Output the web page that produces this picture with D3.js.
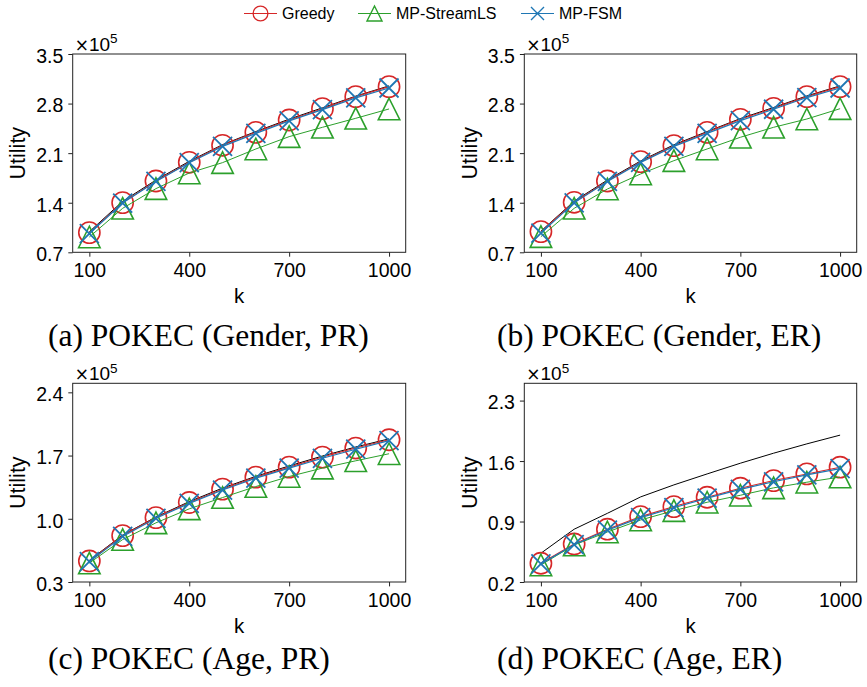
<!DOCTYPE html>
<html>
<head>
<meta charset="utf-8">
<script src="https://cdn.jsdelivr.net/npm/d3@7"></script>
<style>
  html, body { margin: 0; padding: 0; background: #fff; }
  svg { display: block; }
</style>
</head>
<body>
<svg id="fig" width="867" height="687"></svg>
<script>
// ---- data: utility values vs. k for the POKEC experiments ----
const kValues = [100, 200, 300, 400, 500, 600, 700, 800, 900, 1000];
const xTicks = [100, 400, 700, 1000];

// (a) Gender, PR
const greedyA   = [97800, 140100, 170700, 197100, 221100, 239400, 256800, 272800, 289800, 303900];
const streamA   = [91600, 132100, 159900, 182000, 196600, 215900, 233300, 246500, 259200, 272400];
const fsmA      = [96500, 139500, 170000, 196500, 219500, 238000, 255500, 271500, 288000, 302000];
const boundA    = [99000, 142000, 172000, 198500, 222000, 240500, 258000, 274000, 290500, 305000];
const yTicksA   = [70000, 140000, 210000, 280000, 350000];

// (b) Gender, ER
const greedyB   = [99200, 140600, 170700, 198000, 220600, 239400, 257800, 273300, 289800, 303900];
const streamB   = [92100, 132100, 159400, 180600, 199400, 215900, 232400, 246500, 258200, 272800];
const fsmB      = [97000, 139800, 170000, 197000, 219500, 238000, 256000, 272000, 288500, 302000];
const boundB    = [99800, 142200, 172000, 199000, 221800, 240500, 258800, 274500, 290800, 305000];
const yTicksB   = [70000, 140000, 210000, 280000, 350000];

// (c) Age, PR
const greedyC   = [53300, 81400, 101300, 118000, 132800, 146100, 157200, 168300, 178300, 187500];
const streamC   = [51000, 77000, 95500, 111000, 123500, 135700, 146800, 156100, 164200, 172000];
const fsmC      = [52500, 80500, 100500, 117000, 131800, 145000, 156000, 167000, 177000, 186500];
const boundC    = [54000, 82000, 102000, 119000, 134000, 147000, 158500, 169500, 179500, 188500];
const yTicksC   = [30000, 100000, 170000, 240000];

// (d) Age, ER
const greedyD   = [41700, 64000, 81100, 95700, 107300, 118100, 128600, 137400, 145100, 152900];
const streamD   = [39700, 62900, 77900, 91800, 102600, 112300, 120400, 129000, 135500, 141500];
const fsmD      = [41000, 63200, 80000, 94500, 106000, 117000, 127200, 136000, 144000, 151200];
const boundD    = [53300, 81100, 99500, 118500, 132400, 145100, 157500, 169100, 179900, 190000];
const yTicksD   = [20000, 90000, 160000, 230000];

const panels = [
  { title: "(a) POKEC (Gender, PR)", greedy: greedyA, stream: streamA, fsm: fsmA, bound: boundA,
    yDomain: [70000, 350000], yTicks: yTicksA, box: [72.7, 405.7, 54, 252.3], titlePos: [48, 346] },
  { title: "(b) POKEC (Gender, ER)", greedy: greedyB, stream: streamB, fsm: fsmB, bound: boundB,
    yDomain: [70000, 350000], yTicks: yTicksB, box: [524.3, 856.7, 54, 252.3], titlePos: [497, 346] },
  { title: "(c) POKEC (Age, PR)", greedy: greedyC, stream: streamC, fsm: fsmC, bound: boundC,
    yDomain: [30000, 250000], yTicks: yTicksC, box: [72.7, 405.7, 383.3, 582], titlePos: [48, 669] },
  { title: "(d) POKEC (Age, ER)", greedy: greedyD, stream: streamD, fsm: fsmD, bound: boundD,
    yDomain: [20000, 250000], yTicks: yTicksD, box: [524.3, 856.7, 383.3, 582], titlePos: [497, 669] }
];

const RED = "#d62728", GREEN = "#2ca02c", BLUE = "#1f77b4";
const SANS = "'Liberation Sans', Arial, Helvetica, sans-serif";
const SERIF = "'Liberation Serif', 'Times New Roman', serif";

const svg = d3.select("#fig");

// marker painters
function circleMarker(g, x, y, r, w) {
  g.append("circle").attr("cx", x).attr("cy", y).attr("r", r)
    .attr("fill", "none").attr("stroke", RED).attr("stroke-width", w);
}
function triangleMarker(g, x, y, s, w) {
  const h = s / 2;
  g.append("path")
    .attr("d", `M${x},${y - h}L${x - h},${y + h}L${x + h},${y + h}Z`)
    .attr("fill", "none").attr("stroke", GREEN).attr("stroke-width", w)
    .attr("stroke-linejoin", "miter");
}
function crossMarker(g, x, y, s, w) {
  const h = s / 2;
  g.append("path")
    .attr("d", `M${x - h},${y - h}L${x + h},${y + h}M${x - h},${y + h}L${x + h},${y - h}`)
    .attr("fill", "none").attr("stroke", BLUE).attr("stroke-width", w);
}

panels.forEach(p => {
  const [x0, x1, y0, y1] = p.box;
  const x = d3.scaleLinear().domain([50, 1050]).range([x0, x1]);
  const y = d3.scaleLinear().domain(p.yDomain).range([y1, y0]);
  const g = svg.append("g");

  const line = d3.line().x((d, i) => x(kValues[i])).y(d => y(d));

  const plot = g.append("g");
  // black reference curve
  plot.append("path").datum(p.bound).attr("d", line)
    .attr("fill", "none").attr("stroke", "#000").attr("stroke-width", 1);

  // Greedy
  plot.append("path").datum(p.greedy).attr("d", line)
    .attr("fill", "none").attr("stroke", RED).attr("stroke-width", 1.1);
  p.greedy.forEach((v, i) => circleMarker(plot, x(kValues[i]), y(v), 10.6, 1.6));

  // MP-StreamLS
  plot.append("path").datum(p.stream).attr("d", line)
    .attr("fill", "none").attr("stroke", GREEN).attr("stroke-width", 1);
  p.stream.forEach((v, i) => triangleMarker(plot, x(kValues[i]), y(v), 21.5, 1.6));

  // MP-FSM
  plot.append("path").datum(p.fsm).attr("d", line)
    .attr("fill", "none").attr("stroke", BLUE).attr("stroke-width", 1.2);
  p.fsm.forEach((v, i) => crossMarker(plot, x(kValues[i]), y(v), 19, 1.8));

  // frame
  g.append("rect").attr("x", x0).attr("y", y0).attr("width", x1 - x0).attr("height", y1 - y0)
    .attr("fill", "none").attr("stroke", "#222").attr("stroke-width", 1);

  // axes
  const xAxis = d3.axisBottom(x).tickValues(xTicks).tickSize(4.4).tickPadding(5)
    .tickFormat(d3.format("d"));
  const xa = g.append("g").attr("transform", `translate(0,${y1})`).call(xAxis);
  const yAxis = d3.axisLeft(y).tickValues(p.yTicks).tickSize(4.4).tickPadding(5)
    .tickFormat(v => (v / 1e5).toFixed(1));
  const ya = g.append("g").attr("transform", `translate(${x0},0)`).call(yAxis);
  [xa, ya].forEach(a => {
    a.select(".domain").remove();
    a.selectAll(".tick line").attr("stroke", "#222").attr("stroke-width", 1);
    a.selectAll(".tick text").attr("font-family", SANS).attr("font-size", 19.5).attr("fill", "#000");
  });
  xa.selectAll(".tick text").attr("dy", null).attr("y", 25).attr("dominant-baseline", "auto");
  ya.selectAll(".tick text").attr("dy", "0.43em");

  // offset text ×10^5
  const off = g.append("text").attr("x", x0 + 2).attr("y", y0 - 3.3)
    .attr("font-family", SANS).attr("font-size", 19).attr("fill", "#000");
  off.append("tspan").attr("font-family", "'DejaVu Sans', sans-serif").attr("font-size", 17).text("\u00d7");
  off.append("tspan").text("10");
  off.append("tspan").attr("font-size", 13.5).attr("dy", -7.5).text("5");

  // axis labels
  g.append("text").attr("x", (x0 + x1) / 2).attr("y", y1 + 51)
    .attr("text-anchor", "middle").attr("font-family", SANS).attr("font-size", 20.5).text("k");
  g.append("text").attr("transform", `translate(${x0 - 55},${(y0 + y1) / 2}) rotate(-90)`)
    .attr("text-anchor", "middle").attr("dy", "0.36em")
    .attr("font-family", SANS).attr("font-size", 21.5).text("Utility");

  // caption
  g.append("text").attr("x", p.titlePos[0]).attr("y", p.titlePos[1])
    .attr("font-family", SERIF).attr("font-size", 31.5).attr("fill", "#000").text(p.title);
});

// legend
const legendItems = [
  { label: "Greedy", color: RED, kind: "circle", x: 244 },
  { label: "MP-StreamLS", color: GREEN, kind: "triangle", x: 358 },
  { label: "MP-FSM", color: BLUE, kind: "cross", x: 521 }
];
const lg = svg.append("g");
legendItems.forEach(it => {
  const cy = 13.5, cx = it.x + 16.5;
  lg.append("line").attr("x1", it.x).attr("x2", it.x + 33).attr("y1", cy).attr("y2", cy)
    .attr("stroke", it.color).attr("stroke-width", 1.1);
  if (it.kind === "circle") circleMarker(lg, cx, cy, 7.4, 1.3);
  else if (it.kind === "triangle") triangleMarker(lg, cx, cy, 15, 1.4);
  else crossMarker(lg, cx, cy, 13, 1.4);
  lg.append("text").attr("x", it.x + 38).attr("y", cy).attr("dy", "0.36em")
    .attr("font-family", SANS).attr("font-size", 16).attr("fill", "#000").text(it.label);
});
</script>
</body>
</html>
